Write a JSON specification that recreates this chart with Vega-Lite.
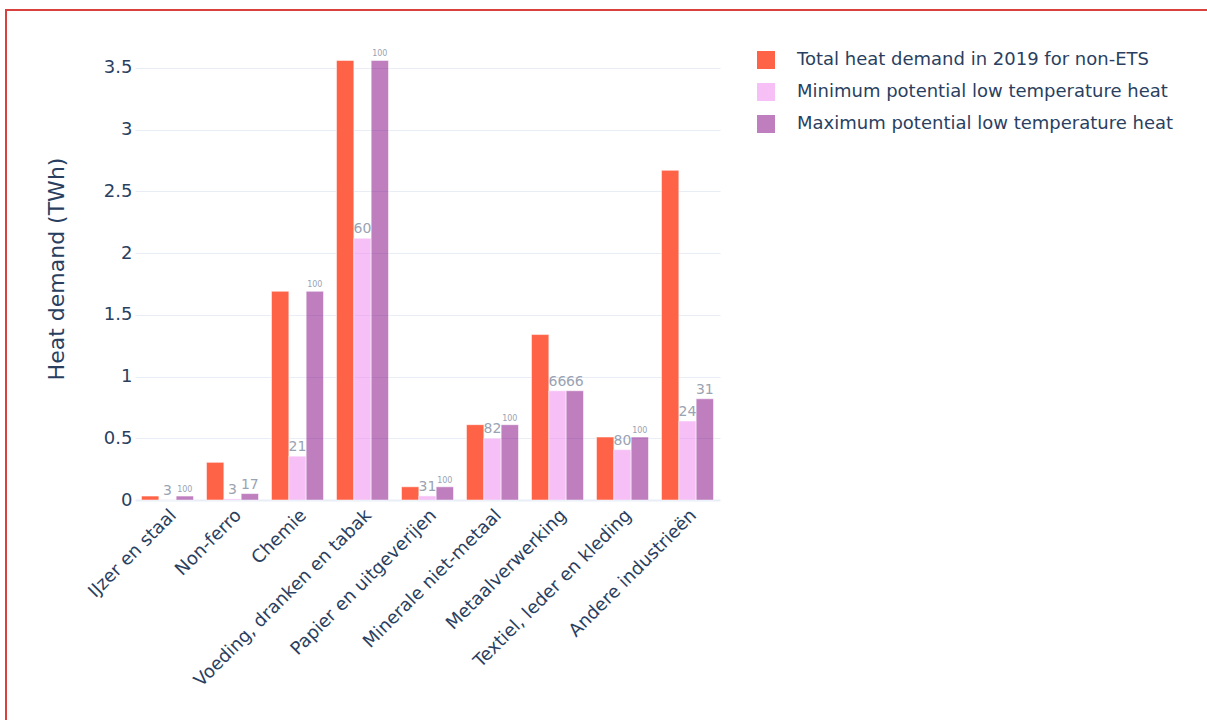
{
  "$schema": "https://vega.github.io/schema/vega-lite/v6.json",
  "autosize": {"type": "none"},
  "width": 1204,
  "height": 713,
  "padding": {"left": 6, "top": 10, "right": -3, "bottom": -3},
  "background": "white",
  "config": {
    "font": "DejaVu Sans",
    "view": {"stroke": "#d9413f", "strokeWidth": 2},
    "axis": {"labelColor": "#2a3f5f", "titleColor": "#2a3f5f", "labelFont": "DejaVu Sans", "titleFont": "DejaVu Sans"},
    "legend": {"labelColor": "#2a3f5f", "labelFont": "DejaVu Sans"}
  },
  "data": {
    "values": [
      {"sector": "IJzer en staal", "series": "Total heat demand in 2019 for non-ETS", "twh": 0.032},
      {"sector": "IJzer en staal", "series": "Minimum potential low temperature heat", "twh": 0.001, "pct": 3},
      {"sector": "IJzer en staal", "series": "Maximum potential low temperature heat", "twh": 0.032, "pct": 100},
      {"sector": "Non-ferro", "series": "Total heat demand in 2019 for non-ETS", "twh": 0.305},
      {"sector": "Non-ferro", "series": "Minimum potential low temperature heat", "twh": 0.009, "pct": 3},
      {"sector": "Non-ferro", "series": "Maximum potential low temperature heat", "twh": 0.052, "pct": 17},
      {"sector": "Chemie", "series": "Total heat demand in 2019 for non-ETS", "twh": 1.69},
      {"sector": "Chemie", "series": "Minimum potential low temperature heat", "twh": 0.355, "pct": 21},
      {"sector": "Chemie", "series": "Maximum potential low temperature heat", "twh": 1.69, "pct": 100},
      {"sector": "Voeding, dranken en tabak", "series": "Total heat demand in 2019 for non-ETS", "twh": 3.56},
      {"sector": "Voeding, dranken en tabak", "series": "Minimum potential low temperature heat", "twh": 2.12, "pct": 60},
      {"sector": "Voeding, dranken en tabak", "series": "Maximum potential low temperature heat", "twh": 3.56, "pct": 100},
      {"sector": "Papier en uitgeverijen", "series": "Total heat demand in 2019 for non-ETS", "twh": 0.107},
      {"sector": "Papier en uitgeverijen", "series": "Minimum potential low temperature heat", "twh": 0.033, "pct": 31},
      {"sector": "Papier en uitgeverijen", "series": "Maximum potential low temperature heat", "twh": 0.107, "pct": 100},
      {"sector": "Minerale niet-metaal", "series": "Total heat demand in 2019 for non-ETS", "twh": 0.61},
      {"sector": "Minerale niet-metaal", "series": "Minimum potential low temperature heat", "twh": 0.5, "pct": 82},
      {"sector": "Minerale niet-metaal", "series": "Maximum potential low temperature heat", "twh": 0.61, "pct": 100},
      {"sector": "Metaalverwerking", "series": "Total heat demand in 2019 for non-ETS", "twh": 1.34},
      {"sector": "Metaalverwerking", "series": "Minimum potential low temperature heat", "twh": 0.885, "pct": 66},
      {"sector": "Metaalverwerking", "series": "Maximum potential low temperature heat", "twh": 0.885, "pct": 66},
      {"sector": "Textiel, leder en kleding", "series": "Total heat demand in 2019 for non-ETS", "twh": 0.51},
      {"sector": "Textiel, leder en kleding", "series": "Minimum potential low temperature heat", "twh": 0.408, "pct": 80},
      {"sector": "Textiel, leder en kleding", "series": "Maximum potential low temperature heat", "twh": 0.51, "pct": 100},
      {"sector": "Andere industrieën", "series": "Total heat demand in 2019 for non-ETS", "twh": 2.67},
      {"sector": "Andere industrieën", "series": "Minimum potential low temperature heat", "twh": 0.64, "pct": 24},
      {"sector": "Andere industrieën", "series": "Maximum potential low temperature heat", "twh": 0.82, "pct": 31}
    ]
  },
  "encoding": {
    "x": {
      "field": "sector",
      "type": "nominal",
      "sort": null,
      "scale": {"range": [129, 714], "paddingInner": 0.2, "paddingOuter": 0.1},
      "axis": {
        "title": null,
        "offset": -223,
        "labelAngle": -45,
        "labelFontSize": 18,
        "labelPadding": 6,
        "labelLimit": 500,
        "ticks": false,
        "domain": false,
        "grid": false
      }
    },
    "xOffset": {
      "field": "series",
      "type": "nominal",
      "sort": null,
      "scale": {"paddingInner": 0, "paddingOuter": 0}
    },
    "y": {
      "field": "twh",
      "type": "quantitative",
      "scale": {"domain": [0, 3.75], "range": [490, 27], "nice": false, "zero": true},
      "axis": {
        "title": "Heat demand (TWh)",
        "offset": -129,
        "titleFontSize": 22,
        "titleFontWeight": "normal",
        "titlePadding": 35,
        "values": [0, 0.5, 1, 1.5, 2, 2.5, 3, 3.5],
        "format": "~g",
        "labelFontSize": 18,
        "labelPadding": 3,
        "ticks": false,
        "domain": false,
        "grid": true,
        "gridColor": "#E8EDF6",
        "gridWidth": {"condition": {"test": "datum.value === 0", "value": 2}, "value": 1}
      }
    }
  },
  "layer": [
    {
      "mark": {"type": "bar", "stroke": "white", "strokeWidth": 0.5},
      "encoding": {
        "color": {
          "field": "series",
          "type": "nominal",
          "sort": null,
          "scale": {
            "domain": ["Total heat demand in 2019 for non-ETS", "Minimum potential low temperature heat", "Maximum potential low temperature heat"],
            "range": ["rgb(255,99,71)", "rgba(238,130,238,0.5)", "rgba(128,0,128,0.5)"]
          },
          "legend": {
            "title": null,
            "orient": "none",
            "legendX": 751,
            "legendY": 41,
            "padding": 0,
            "symbolType": "square",
            "symbolSize": 324,
            "symbolStrokeWidth": 0,
            "labelFontSize": 18,
            "labelOffset": 22,
            "rowPadding": 14,
            "labelLimit": 600
          }
        }
      }
    },
    {
      "transform": [{"filter": "isValid(datum.pct)"}],
      "mark": {"type": "text", "baseline": "bottom", "dy": -2, "color": "#9aa3b3"},
      "encoding": {
        "text": {"field": "pct", "type": "quantitative"},
        "size": {
          "condition": {"test": "datum.pct >= 100", "value": 8},
          "value": 14
        }
      }
    }
  ]
}
